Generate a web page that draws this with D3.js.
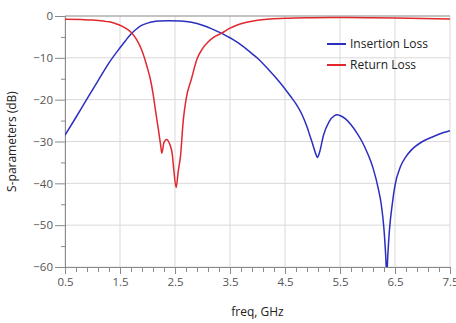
<!DOCTYPE html>
<html><head><meta charset="utf-8">
<script src="https://cdn.jsdelivr.net/npm/d3@7"></script>
<style>body{margin:0;background:#fff}svg{display:block;font-family:"Open Sans",sans-serif}</style>
</head><body><svg id="c" width="456" height="323"></svg>
<script>
const xTicks = [0.5,1.5,2.5,3.5,4.5,5.5,6.5,7.5];
const yTicks = [0,-10,-20,-30,-40,-50,-60];
const seriesNames = ["Insertion Loss","Return Loss"];
const insFreq = [0.5,0.7,0.9,1.1,1.3,1.5,1.6,1.7,1.8,1.9,2.0,2.1,2.2,2.4,2.6,2.8,3.0,3.1,3.2,3.3,3.4,3.5,3.6,3.7,3.8,3.9,4.0,4.2,4.4,4.6,4.7,4.8,4.9,4.95,5.0,5.05,5.09,5.13,5.2,5.3,5.4,5.45,5.5,5.6,5.7,5.8,5.9,6.0,6.1,6.2,6.25,6.3,6.33,6.35,6.37,6.4,6.45,6.5,6.6,6.7,6.8,7.0,7.2,7.4,7.5];
const insLoss = [-28.5,-24.2,-19.8,-15.5,-11.2,-7.6,-5.9,-4.3,-3.1,-2.2,-1.7,-1.35,-1.2,-1.15,-1.2,-1.5,-2.2,-2.7,-3.25,-3.85,-4.5,-5.2,-6.0,-6.9,-7.9,-9.0,-10.1,-12.8,-15.8,-19.2,-21,-23.3,-26.5,-28.5,-30.5,-32.6,-33.8,-32.5,-28.5,-25.3,-23.8,-23.6,-23.8,-24.6,-26,-27.8,-30,-32.8,-36.3,-41.5,-45,-51,-57,-62,-57,-51,-45,-40.5,-36,-33.6,-32,-30,-28.8,-27.8,-27.4];
const retFreq = [0.5,0.8,1.0,1.2,1.3,1.4,1.5,1.6,1.7,1.8,1.9,2.0,2.05,2.1,2.15,2.2,2.24,2.26,2.3,2.35,2.4,2.45,2.48,2.52,2.56,2.6,2.65,2.7,2.8,2.9,3.0,3.1,3.2,3.35,3.5,3.62,3.8,4.0,4.5,5.0,5.5,6.0,6.5,7.0,7.5];
const retLoss = [-0.75,-0.85,-0.95,-1.2,-1.4,-1.75,-2.2,-2.9,-3.9,-5.6,-8.3,-12.5,-15,-18.5,-23,-27.3,-31,-32.8,-30.2,-29.5,-30.5,-33,-37,-41,-37,-33.5,-25,-20,-15,-10.3,-7.8,-6.2,-5.1,-4.1,-2.9,-2.2,-1.5,-1.0,-0.55,-0.4,-0.35,-0.4,-0.5,-0.6,-0.7];

const svg = d3.select("#c");
const L=65,R=450,T=16,B=267;
const x = d3.scaleLinear().domain([0.5,7.5]).range([L,R]);
const y = d3.scaleLinear().domain([-60,0]).range([B,T]);

// grid
svg.append("g").selectAll("line").data(xTicks).join("line")
  .attr("x1",d=>x(d)).attr("x2",d=>x(d)).attr("y1",T).attr("y2",B)
  .attr("stroke","#d9d9d9").attr("stroke-width",1);
svg.append("g").selectAll("line").data(yTicks).join("line")
  .attr("x1",L).attr("x2",R).attr("y1",d=>y(d)).attr("y2",d=>y(d))
  .attr("stroke","#d9d9d9").attr("stroke-width",1);

// axes
const xMinor = d3.range(0.5,7.5001,0.2);
const gx = svg.append("g").attr("transform",`translate(0,${B})`);
gx.call(d3.axisBottom(x).tickValues(xMinor).tickSize(5).tickFormat(""));
const gx2 = svg.append("g").attr("transform",`translate(0,${B})`);
gx2.call(d3.axisBottom(x).tickValues(xTicks).tickSize(7).tickPadding(4).tickFormat(d3.format(".1f")));
const yMinor = d3.range(-55,0,10);
const gy = svg.append("g").attr("transform",`translate(${L},0)`);
gy.call(d3.axisLeft(y).tickValues(yMinor).tickSize(4).tickFormat(""));
const gy2 = svg.append("g").attr("transform",`translate(${L},0)`);
gy2.call(d3.axisLeft(y).tickValues(yTicks).tickSize(10).tickPadding(2).tickFormat(d3.format("d")));
[gx,gx2,gy,gy2].forEach(g=>{
  g.select(".domain").attr("stroke","#8a8a8a");
  g.selectAll(".tick line").attr("stroke","#8a8a8a");
  g.selectAll(".tick text").attr("fill","#555").style("font-size","11.5px").style("font-family","'Open Sans',sans-serif");
});
// top border
svg.append("line").attr("x1",L).attr("x2",R).attr("y1",T).attr("y2",T).attr("stroke","#9a9a9a");

// clip
svg.append("clipPath").attr("id","clip").append("rect").attr("x",L).attr("y",T).attr("width",R-L).attr("height",B-T);

const line = d3.line().x(d=>x(d[0])).y(d=>y(d[1])).curve(d3.curveMonotoneX);
const colors = ["#2b2fbf","#e0282e"];
svg.append("path").datum(d3.zip(insFreq,insLoss)).attr("d",line)
  .attr("fill","none").attr("stroke",colors[0]).attr("stroke-width",1.5).attr("clip-path","url(#clip)");
svg.append("path").datum(d3.zip(retFreq,retLoss)).attr("d",line)
  .attr("fill","none").attr("stroke",colors[1]).attr("stroke-width",1.5).attr("clip-path","url(#clip)");

// legend
const lg = svg.append("g");
seriesNames.forEach((n,i)=>{
  const yy = 44 + i*21;
  lg.append("line").attr("x1",327).attr("x2",346).attr("y1",yy).attr("y2",yy).attr("stroke",colors[i]).attr("stroke-width",2);
  lg.append("text").attr("x",350).attr("y",yy+4).text(n).attr("fill","#222").style("font-size","12px");
});

// titles
svg.append("text").attr("transform",`translate(16,${(T+B)/2}) rotate(-90)`).attr("text-anchor","middle")
  .text("S-parameters (dB)").attr("fill","#222").style("font-size","12px");
svg.append("text").attr("x",(L+R)/2).attr("y",316).attr("text-anchor","middle")
  .text("freq, GHz").attr("fill","#222").style("font-size","12px");
</script></body></html>
